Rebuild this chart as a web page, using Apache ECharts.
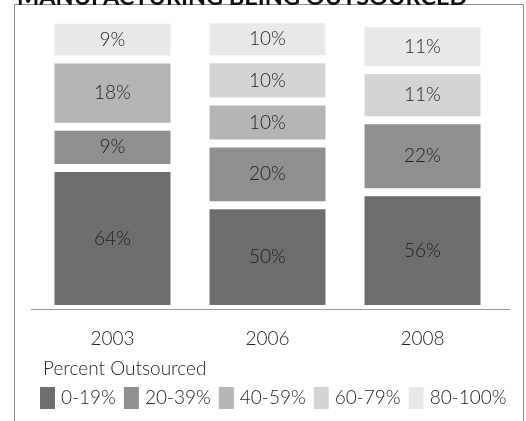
<!DOCTYPE html>
<html>
<head>
<meta charset="utf-8">
<title>Manufacturing being outsourced</title>
<script src="https://cdn.jsdelivr.net/npm/echarts@6/dist/echarts.min.js"></script>
<style>
  html, body { margin: 0; padding: 0; background: #fff; }
  #chart { width: 526px; height: 421px; }
</style>
</head>
<body>
<div id="chart"></div>
<script>
const years = ['2003', '2006', '2008'];
const bands = ['0-19%', '20-39%', '40-59%', '60-79%', '80-100%'];
const bandColors = ['#6e6e6e', '#909090', '#b5b5b5', '#d4d4d4', '#e8e8e8'];

// percentages printed on the segments (null = no segment)
const printed0to19 = [64, 50, 56];
const printed20to39 = [9, 20, 22];
const printed40to59 = [18, 10, null];
const printed60to79 = [null, 10, 11];
const printed80to100 = [9, 10, 11];

// segment sizes as drawn in the original (share of column height),
// the original does not draw them to scale
const drawn0to19 = [48.8, 35.9, 40.4];
const drawn20to39 = [14.3, 21.4, 24.9];
const drawn40to59 = [23.2, 14.5, null];
const drawn60to79 = [null, 14.6, 17.4];
const drawn80to100 = [13.8, 13.9, 16.2];

const printed = [printed0to19, printed20to39, printed40to59, printed60to79, printed80to100];
const drawn = [drawn0to19, drawn20to39, drawn40to59, drawn60to79, drawn80to100];

const font = 'Lato, "Open Sans", sans-serif';

let myChart = echarts.init(document.getElementById('chart'));

myChart.setOption({
  animation: false,
  title: [
    {
      text: 'MANUFACTURING BEING OUTSOURCED',
      left: 17,
      top: -15,
      padding: 0,
      textStyle: { fontFamily: font, fontWeight: 'bold', fontSize: 23.5, color: '#111' }
    },
    {
      text: 'Percent Outsourced',
      left: 43,
      top: 359,
      padding: 0,
      textStyle: { fontFamily: font, fontWeight: 300, fontSize: 19, color: '#1e1e1e' }
    }
  ],
  legend: {
    left: 38,
    top: 385,
    padding: 0,
    itemWidth: 17,
    itemHeight: 24,
    itemGap: 6,
    icon: 'rect',
    data: bands,
    textStyle: { fontFamily: font, fontWeight: 300, fontSize: 19, color: '#1e1e1e' }
  },
  grid: {
    left: 35,
    right: 26,
    top: 20,
    bottom: 112
  },
  xAxis: {
    type: 'category',
    data: years,
    axisLine: { show: false },
    axisTick: { show: false },
    axisLabel: { margin: 20, fontFamily: font, fontWeight: 300, fontSize: 19, color: '#1e1e1e' }
  },
  yAxis: {
    type: 'value',
    min: 0,
    max: 100,
    show: false
  },
  graphic: [
    {
      type: 'rect',
      z: -10,
      shape: { x: 14.5, y: 4.5, width: 509, height: 440 },
      style: { fill: 'none', stroke: '#8a8a8a', lineWidth: 1 }
    },
    {
      type: 'line',
      z: -5,
      shape: { x1: 31, y1: 309.5, x2: 510, y2: 309.5 },
      style: { stroke: '#999', lineWidth: 1 }
    }
  ],
  series: bands.map((name, i) => ({
    name: name,
    type: 'bar',
    stack: 'share',
    barWidth: 124,
    itemStyle: { color: bandColors[i], borderColor: '#fff', borderWidth: 4 },
    label: {
      show: true,
      position: 'inside',
      fontFamily: font,
      fontWeight: 300,
      fontSize: 19,
      color: '#1e1e1e',
      formatter: p => printed[i][p.dataIndex] == null ? '' : printed[i][p.dataIndex] + '%'
    },
    data: drawn[i]
  }))
});
</script>
</body>
</html>
